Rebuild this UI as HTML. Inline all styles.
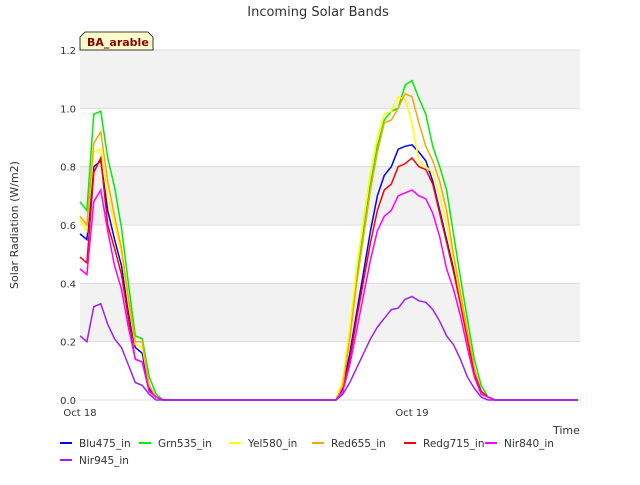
<!DOCTYPE html>
<html><head><meta charset="utf-8"><style>
body{margin:0;background:#fff;font-family:"Liberation Sans","DejaVu Sans",sans-serif}
svg text{font-family:"DejaVu Sans","Liberation Sans",sans-serif}
</style></head><body>
<svg id="chart" width="640" height="480" xmlns="http://www.w3.org/2000/svg">
<text x="318" y="16" text-anchor="middle" font-size="13" fill="#333">Incoming Solar Bands</text>
<g id="plot"></g>
<text transform="translate(18,225) rotate(-90)" text-anchor="middle" font-size="11" fill="#333">Solar Radiation (W/m2)</text>
<text x="553" y="434" font-size="11" fill="#333">Time</text>
<g>
<path d="M80,50 L80,37 L85,32 L148,32 L153,37 L153,50 Z" fill="#ffffcc" stroke="#000" stroke-width="0.8"/>
<text x="87" y="46" font-size="11" font-weight="bold" fill="#8b0000">BA_arable</text></g>
<g id="legend"></g>
</svg>
<script>
const yTicks=[0,0.2,0.4,0.6,0.8,1.0,1.2];
const xTickLabels=["Oct 18","Oct 19"];
const xTickIdx=[0,48];
const seriesNames=["Blu475_in","Grn535_in","Yel580_in","Red655_in","Redg715_in","Nir840_in","Nir945_in"];
const colors=["#0000ff","#00ee00","#ffff00","#ffa500","#ff0000","#ff00ff","#a020f0"];
const d1Blu=[.57,.55,.80,.82,.65,.55,.46,.30,.18,.16,.04,.01,0];
const d1Grn=[.68,.65,.98,.99,.83,.73,.59,.40,.22,.21,.08,.02,0];
const d1Yel=[.62,.58,.85,.86,.70,.60,.50,.33,.19,.18,.05,.01,0];
const d1Red=[.63,.60,.88,.92,.75,.63,.52,.35,.20,.20,.05,.01,0];
const d1Redg=[.49,.47,.78,.83,.60,.52,.43,.28,.14,.13,.03,.01,0];
const d1Nir840=[.45,.43,.68,.72,.58,.46,.38,.25,.14,.13,.03,.01,0];
const d1Nir945=[.22,.20,.32,.33,.26,.21,.18,.12,.06,.05,.02,0,0];
const d2Blu=[0,.04,.16,.30,.44,.58,.70,.77,.80,.86,.87,.875,.85,.82,.75,.65,.55,.45,.34,.22,.10,.03,.01,0];
const d2Grn=[0,.05,.22,.42,.58,.74,.87,.96,.99,1.0,1.08,1.095,1.035,.98,.87,.80,.72,.57,.42,.28,.14,.05,.01,0];
const d2Yel=[0,.07,.25,.45,.62,.78,.90,.98,.99,1.04,1.03,.95,.82,.80,.78,.70,.60,.48,.35,.22,.10,.03,.01,0];
const d2Red=[0,.05,.21,.40,.56,.72,.85,.95,.96,1.0,1.05,1.04,.95,.87,.82,.75,.65,.50,.37,.24,.11,.03,.01,0];
const d2Redg=[0,.03,.14,.28,.41,.54,.65,.72,.74,.80,.81,.83,.80,.79,.74,.64,.54,.44,.33,.21,.09,.03,.01,0];
const d2Nir840=[0,.03,.12,.24,.36,.48,.58,.63,.65,.70,.71,.72,.70,.69,.64,.56,.45,.38,.29,.18,.08,.02,.01,0];
const d2Nir945=[0,.02,.06,.11,.16,.21,.25,.28,.31,.315,.345,.355,.34,.335,.31,.27,.22,.19,.14,.08,.04,.01,0,0];
const day2Start=37, nPts=73;
const NS="http://www.w3.org/2000/svg";
const X0=80,X1=580,Y0=400,Y1=50,step=332/48;
const xs=i=>X0+i*step, ys=v=>Y0-(v/1.2)*(Y0-Y1);
function mk(t,a,p){const e=document.createElementNS(NS,t);for(const k in a)e.setAttribute(k,a[k]);p.appendChild(e);return e;}
function build(a,b){const arr=new Array(nPts).fill(0);a.forEach((v,i)=>arr[i]=v);b.forEach((v,i)=>arr[day2Start+i]=v);return arr;}
const all=[build(d1Blu,d2Blu),build(d1Grn,d2Grn),build(d1Yel,d2Yel),build(d1Red,d2Red),build(d1Redg,d2Redg),build(d1Nir840,d2Nir840),build(d1Nir945,d2Nir945)];
const plot=document.getElementById('plot');
mk('rect',{x:X0,y:Y1,width:X1-X0,height:Y0-Y1,fill:'#fff'},plot);
for(let k=0;k<yTicks.length-1;k++){
 if(k%2==1){const r=mk('rect',{x:X0,y:ys(yTicks[k+1]),width:X1-X0,height:ys(yTicks[k])-ys(yTicks[k+1]),fill:'#f2f2f2'},plot);
 
 }
}
yTicks.forEach(v=>{
 const l=mk('line',{x1:X0,x2:X1,y1:ys(v),y2:ys(v),stroke:'#dcdcdc','stroke-width':1},plot);
 
 
 const t=mk('text',{x:X0-4,y:ys(v)+4,'text-anchor':'end','font-size':10,fill:'#333'},plot);
 t.textContent=v.toFixed(1);
 
 
});
xTickIdx.forEach((idx,k)=>{
 const t=mk('text',{x:xs(idx),y:Y0+16,'text-anchor':'middle','font-size':10,fill:'#333'},plot);
 t.textContent=xTickLabels[k];
 
 
});
all.forEach((arr,s)=>{
 const p=mk('polyline',{points:arr.map((v,i)=>xs(i).toFixed(1)+','+ys(v).toFixed(1)).join(' '),fill:'none',stroke:colors[s],'stroke-width':1.5},plot);
 
 
});
const lg=document.getElementById('legend');
const lx=[60,139,229,312,404,485,60], ly=[443,443,443,443,443,443,460];
seriesNames.forEach((n,s)=>{
 const g=mk('g',{},lg);
 
 
 mk('line',{x1:lx[s],x2:lx[s]+12,y1:ly[s],y2:ly[s],stroke:colors[s],'stroke-width':2},g);
 const t=mk('text',{x:lx[s]+19,y:ly[s]+4,'font-size':10.5,fill:'#333'},g);
 t.textContent=n;
});
</script>
</body></html>
